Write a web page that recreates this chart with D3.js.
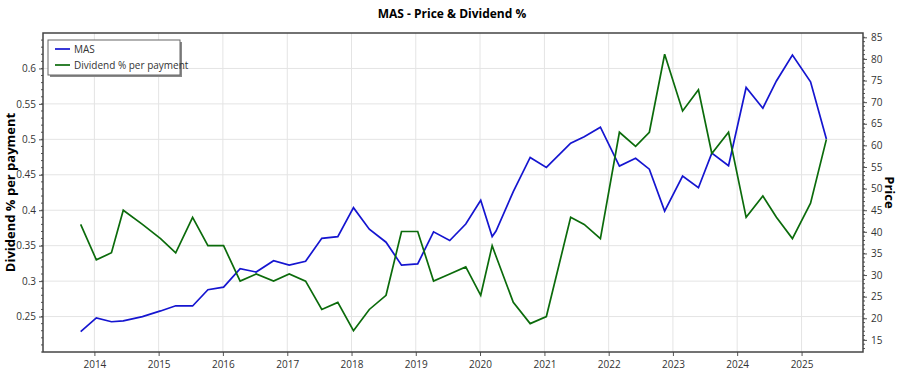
<!DOCTYPE html>
<html>
<head>
<meta charset="utf-8">
<script src="https://cdn.jsdelivr.net/npm/d3@7"></script>
<style>
    body { margin: 0; background: #ffffff; }
    text { font-family: "Open Sans", "Noto Sans", sans-serif; }
</style>
</head>
<body>
<svg id="viz_svg01" width="900" height="375"></svg>
<script>
// Payment dates, shared by both series.
const dates = [
    "2013-10-15", "2014-01-12", "2014-04-08", "2014-06-14", "2014-10-01",
    "2015-01-12", "2015-04-08", "2015-07-13", "2015-10-08",
    "2016-01-05", "2016-04-08", "2016-07-08", "2016-10-15",
    "2017-01-12", "2017-04-15", "2017-07-16", "2017-10-15",
    "2018-01-12", "2018-04-12", "2018-07-16", "2018-10-12",
    "2019-01-12", "2019-04-12", "2019-07-13", "2019-10-12",
    "2020-01-05", "2020-03-10", "2020-04-01", "2020-07-08", "2020-10-12",
    "2021-01-12", "2021-05-30", "2021-08-15", "2021-11-15",
    "2022-03-03", "2022-06-03", "2022-08-20", "2022-11-15",
    "2023-02-25", "2023-05-26", "2023-08-10", "2023-11-13",
    "2024-02-21", "2024-05-26", "2024-08-11", "2024-11-10",
    "2025-02-21", "2025-05-22"
];

// MAS share price (right axis).
const price = [
    16.9, 20.1, 19.2, 19.4, 20.4,
    21.7, 22.9, 22.85, 26.6,
    27.2, 31.5, 30.7, 33.3,
    32.3, 33.2, 38.5, 38.9,
    45.6, 40.6, 37.6, 32.3,
    32.6, 40.0, 38.0, 41.8,
    47.3, 38.9, 40.2, 49.3, 57.2,
    54.9, 60.5, 62.0, 64.2,
    55.2, 57.0, 54.5, 44.8,
    52.9, 50.2, 58.2, 55.3,
    73.4, 68.6, 74.9, 80.9,
    74.7, 61.5
];

// Dividend % per payment (left axis).
const dividend = [
    0.38, 0.33, 0.34, 0.40, 0.38,
    0.36, 0.34, 0.39, 0.35,
    0.35, 0.30, 0.31, 0.30,
    0.31, 0.30, 0.26, 0.27,
    0.23, 0.26, 0.28, 0.37,
    0.37, 0.30, 0.31, 0.32,
    0.28, 0.35, 0.335, 0.27, 0.24,
    0.25, 0.39, 0.38, 0.36,
    0.51, 0.49, 0.51, 0.62,
    0.54, 0.57, 0.48, 0.51,
    0.39, 0.42, 0.39, 0.36,
    0.41, 0.50
];

// Tick values for the axes.
const divTicks = [0.25, 0.3, 0.35, 0.4, 0.45, 0.5, 0.55, 0.6];
const priceTicks = [15, 20, 25, 30, 35, 40, 45, 50, 55, 60, 65, 70, 75, 80, 85];
const yearTicks = [2014, 2015, 2016, 2017, 2018, 2019, 2020, 2021, 2022, 2023, 2024, 2025];

const seriesNames = ["MAS", "Dividend % per payment"];
const seriesColors = ["#1515d0", "#0b6b0b"];

// Plot area and scales.
const plot = { left: 43, right: 863, top: 33, bottom: 352 };
const parse = d3.timeParse("%Y-%m-%d");

const scaleX = d3.scaleTime()
    .domain([parse("2013-03-15"), parse("2025-12-16")])
    .range([plot.left, plot.right]);
const scaleDiv = d3.scaleLinear()
    .domain([0.2, 0.65])
    .range([plot.bottom, plot.top]);
const scalePrice = d3.scaleLinear()
    .domain([12.2, 86])
    .range([plot.bottom, plot.top]);

const svg = d3.select("#viz_svg01");

// Grid lines
let grid = svg.append("g").attr("id", "grid");
grid.selectAll(".hgrid")
    .data(divTicks)
    .enter().append("line")
    .attr("x1", plot.left).attr("x2", plot.right)
    .attr("y1", d => scaleDiv(d)).attr("y2", d => scaleDiv(d))
    .style("stroke", "#e4e4e4");
grid.selectAll(".vgrid")
    .data(yearTicks)
    .enter().append("line")
    .attr("x1", d => scaleX(new Date(d, 0, 1))).attr("x2", d => scaleX(new Date(d, 0, 1)))
    .attr("y1", plot.top).attr("y2", plot.bottom)
    .style("stroke", "#e4e4e4");

// Minor ticks, drawn by hand as d3 axes have no minor ticks.
function minorTicks(scale, step, x, dir){
    let vals = d3.range(Math.ceil(scale.domain()[0] / step) * step, scale.domain()[1], step);
    svg.append("g").selectAll("line")
        .data(vals)
        .enter().append("line")
        .attr("x1", x).attr("x2", x + dir * 2)
        .attr("y1", d => scale(d)).attr("y2", d => scale(d))
        .style("stroke", "#555");
}
minorTicks(scaleDiv, 0.01, plot.left, -1);
minorTicks(scalePrice, 1, plot.right, 1);

// Axes
let leftAxis = svg.append("g")
    .attr("transform", `translate(${plot.left},0)`)
    .call(d3.axisLeft(scaleDiv).tickValues(divTicks).tickFormat(d3.format("")).tickSize(4).tickPadding(3));
let rightAxis = svg.append("g")
    .attr("transform", `translate(${plot.right},0)`)
    .call(d3.axisRight(scalePrice).tickValues(priceTicks).tickSize(4).tickPadding(4));
let bottomAxis = svg.append("g")
    .attr("transform", `translate(0,${plot.bottom})`)
    .call(d3.axisBottom(scaleX).tickValues(yearTicks.map(y => new Date(y, 0, 1)))
        .tickFormat(d3.timeFormat("%Y")).tickSize(4).tickPadding(5));

[leftAxis, rightAxis, bottomAxis].forEach(a => {
    a.select(".domain").remove();
    a.selectAll("line").style("stroke", "#555");
    a.selectAll("text").style("font-size", "10px").style("fill", "#333")
        .style("font-family", "'Open Sans', 'Noto Sans', sans-serif");
});

// Frame around the plot area
svg.append("rect")
    .attr("x", plot.left).attr("y", plot.top)
    .attr("width", plot.right - plot.left).attr("height", plot.bottom - plot.top)
    .style("fill", "none").style("stroke", "#444").style("stroke-width", 1.5);

// Series lines
const dividendLine = d3.line()
    .x((d, i) => scaleX(parse(dates[i])))
    .y(d => scaleDiv(d));
const priceLine = d3.line()
    .x((d, i) => scaleX(parse(dates[i])))
    .y(d => scalePrice(d));

svg.append("path")
    .datum(price)
    .attr("d", priceLine)
    .style("fill", "none").style("stroke", seriesColors[0]).style("stroke-width", 1.7);
svg.append("path")
    .datum(dividend)
    .attr("d", dividendLine)
    .style("fill", "none").style("stroke", seriesColors[1]).style("stroke-width", 1.7);

// Titles
svg.append("text")
    .attr("x", 452).attr("y", 18)
    .attr("text-anchor", "middle")
    .style("font-size", "12px").style("font-weight", "bold")
    .text("MAS - Price & Dividend %");
svg.append("text")
    .attr("transform", `translate(15,${(plot.top + plot.bottom) / 2}) rotate(-90)`)
    .attr("text-anchor", "middle")
    .style("font-size", "13px").style("font-weight", "bold")
    .text("Dividend % per payment");
svg.append("text")
    .attr("transform", `translate(885,${(plot.top + plot.bottom) / 2}) rotate(90)`)
    .attr("text-anchor", "middle")
    .style("font-size", "13px").style("font-weight", "bold")
    .text("Price");

// Legend with a small drop shadow
let legend = svg.append("g").attr("transform", "translate(48,40)");
legend.append("rect")
    .attr("x", 2).attr("y", 2).attr("width", 132).attr("height", 35)
    .style("fill", "#888");
legend.append("rect")
    .attr("width", 132).attr("height", 35)
    .style("fill", "#ffffff").style("stroke", "#666");
seriesNames.forEach((name, i) => {
    legend.append("line")
        .attr("x1", 7).attr("x2", 22)
        .attr("y1", 9 + i * 16).attr("y2", 9 + i * 16)
        .style("stroke", seriesColors[i]).style("stroke-width", 1.7);
    legend.append("text")
        .attr("x", 26).attr("y", 13 + i * 16)
        .style("font-size", "10px").style("fill", "#333")
        .text(name);
});
</script>
</body>
</html>
